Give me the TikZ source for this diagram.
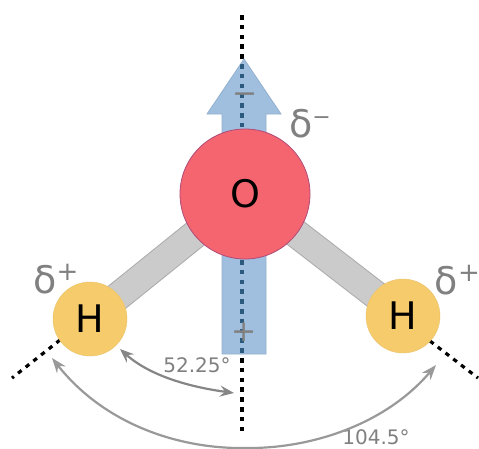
\documentclass[tikz,border=0pt]{standalone}
\usepackage{fontspec}
\setmainfont{DejaVu Sans}
\usetikzlibrary{arrows.meta}
\definecolor{oxy}{HTML}{F4656F}
\definecolor{oxyedge}{HTML}{B04A78}
\definecolor{hyd}{HTML}{F5CB6B}
\definecolor{bondf}{HTML}{CBCBCB}
\definecolor{bonde}{HTML}{ABABAB}
\definecolor{arrowf}{HTML}{A0BEDD}
\definecolor{arrowe}{HTML}{93B2CF}
\definecolor{dotblue}{HTML}{2C5A7E}
\definecolor{lab}{HTML}{808080}
\tikzset{
  atomO/.style={circle,draw=oxyedge,line width=.8pt,fill=oxy,minimum size=130pt,inner sep=0pt,font=\fontsize{38pt}{38pt}\selectfont},
  atomH/.style={circle,fill=hyd,draw=hyd!90!gray,line width=.4pt,minimum size=74pt,inner sep=0pt,font=\fontsize{38pt}{38pt}\selectfont},
  bond/.style={line width=29pt,bonde},
  bondin/.style={line width=27pt,bondf},
  axis/.style={line width=3.2pt,dash pattern=on 4.5pt off 5.3pt},
  glabel/.style={text=lab,inner sep=0pt},
  delta/.style={glabel,font=\fontsize{38pt}{38pt}\selectfont},
  angle/.style={glabel,font=\fontsize{20pt}{20pt}\selectfont},
  sign/.style={glabel,font=\fontsize{30pt}{30pt}\selectfont},
  arcin/.style={line width=2.2pt,color=gray!95,{Stealth[length=14pt,width=11pt,inset=5pt]}-{Stealth[length=14pt,width=11pt,inset=5pt]}},
  arcout/.style={line width=2.2pt,color=gray!80,{Stealth[length=15pt,width=11pt,inset=5pt]}-{Stealth[length=15pt,width=11pt,inset=5pt]}}
}
\begin{document}
\begin{tikzpicture}[x=1pt,y=-1pt]
\useasboundingbox (0,0) rectangle (479,448);
\fill[white] (0,0) rectangle (479,448);
\coordinate (top) at (242,15);
\coordinate (bot) at (242,432);
\coordinate (lf) at (12,378);
\coordinate (lin) at (60,340);
\coordinate (rf) at (478,378);
\coordinate (rin) at (430,341);
\coordinate (OC) at (245,194);
\coordinate (HLC) at (90,319);
\coordinate (HRC) at (403,316);
\draw[axis,black] (top) -- (bot);
\draw[axis,black] (lin) -- (lf);
\draw[axis,black] (rin) -- (rf);
\fill[arrowf,draw=arrowe,line width=.8pt] (244,59) -- (281,114) -- (266,114) -- (266,354) -- (222,354) -- (222,114) -- (207,114) -- cycle;
\begin{scope}
\clip (244,59) -- (281,114) -- (266,114) -- (266,354) -- (222,354) -- (222,114) -- (207,114) -- cycle;
\draw[axis,dotblue] (top) -- (bot);
\end{scope}
\draw[bond] (OC) -- (HLC);
\draw[bondin] (OC) -- (HLC);
\draw[bond] (OC) -- (HRC);
\draw[bondin] (OC) -- (HRC);
\node[atomO] (O) at (OC) {O};
\node[atomH] (HL) at (HLC) {H};
\node[atomH] (HR) at (HRC) {H};
\node[sign] (minus) at (245,98) {−};
\node[sign] (plus) at (244,332) {+};
\node[delta] (dm) at (310,124) {δ\raisebox{13pt}{\fontsize{22pt}{22pt}\selectfont −}};
\node[delta] (dl) at (56,279) {δ\raisebox{13pt}{\fontsize{26pt}{26pt}\selectfont +}};
\node[delta] (dr) at (457.5,280) {δ\raisebox{13pt}{\fontsize{26pt}{26pt}\selectfont +}};
\node[angle] (a1) at (197,365) {52.25°};
\node[angle] (a2) at (376,437) {104.5°};
\coordinate (i1) at (120,349);
\coordinate (i2) at (234,393);
\coordinate (o1) at (52,358);
\coordinate (o2) at (436,365);
\draw[arcin] (i1) .. controls (150,376) and (190,387) .. (i2);
\draw[arcout] (o1) .. controls (105,425) and (180,449) .. (245,448) .. controls (310,449) and (385,425) .. (o2);
\end{tikzpicture}
\end{document}
